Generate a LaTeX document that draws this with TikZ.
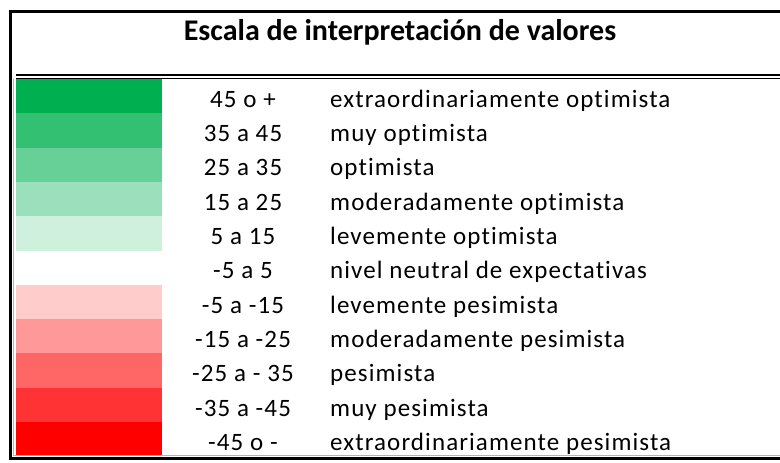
\documentclass[tikz,border=0pt]{standalone}
\usepackage{fontspec}
\setmainfont{Carlito}[Ligatures=NoCommon]
\newfontfamily\cuerpo{Carlito}[LetterSpace=4.4, Ligatures=NoCommon]
\usetikzlibrary{calc}

\definecolor{verdeA}{RGB}{0,176,80}
\definecolor{verdeB}{RGB}{51,192,115}
\definecolor{verdeC}{RGB}{102,208,150}
\definecolor{verdeD}{RGB}{155,224,188}
\definecolor{verdeE}{RGB}{206,240,221}
\definecolor{rojoE}{RGB}{255,204,204}
\definecolor{rojoD}{RGB}{255,153,153}
\definecolor{rojoC}{RGB}{255,102,102}
\definecolor{rojoB}{RGB}{255,51,51}
\definecolor{rojoA}{RGB}{255,0,0}

\tikzset{
  titulo/.style={anchor=base, inner sep=0pt, font=\fontsize{30}{36}\selectfont\bfseries},
  rango/.style={anchor=base, inner sep=0pt, font=\cuerpo\fontsize{25}{30}\selectfont},
  texto/.style={anchor=base west, inner sep=0pt, font=\cuerpo\fontsize{25}{30}\selectfont},
  marco/.style={line width=3.2pt},
  rejilla/.style={line width=0.8pt, black!30}
}

\begin{document}
\begin{tikzpicture}[x=1pt,y=-1pt]
\useasboundingbox (0,0) rectangle (780,463);
\clip (0,0) rectangle (780,463);
\pgfmathsetmacro{\h}{34.3};
% franjas de color y textos
\foreach \c/\r/\d [count=\i from 0] in {
  verdeA/45 o +/extraordinariamente optimista,
  verdeB/35 a 45/muy optimista,
  verdeC/25 a 35/optimista,
  verdeD/15 a 25/moderadamente optimista,
  verdeE/5 a 15/levemente optimista,
  white/-5 a 5/nivel neutral de expectativas,
  rojoE/-5 a -15/levemente pesimista,
  rojoD/-15 a -25/moderadamente pesimista,
  rojoC/-25 a - 35/pesimista,
  rojoB/-35 a -45/muy pesimista,
  rojoA/-45 o -/extraordinariamente pesimista} {
  \pgfmathsetmacro{\y}{79 + \i*\h};
  \fill[\c] (16,\y) rectangle (162,\y+\h);
  \node[rango] (r_\i) at (243,\y+\h-6) {\r};
  \node[texto] (d_\i) at (330,\y+\h-6) {\d};
}
\node[titulo] (titulo) at (400,40) {Escala de interpretación de valores};
% lineas
\draw[rejilla] (13.8,79) -- (13.8,455.5) -- (780,455.5);
\draw[line width=1.8pt] (16,74.6) -- (780,74.6);
\draw[line width=1pt] (16,78.2) -- (780,78.2);
\draw[marco] (10.7,11.7) rectangle (800,458.3);
\end{tikzpicture}
\end{document}
